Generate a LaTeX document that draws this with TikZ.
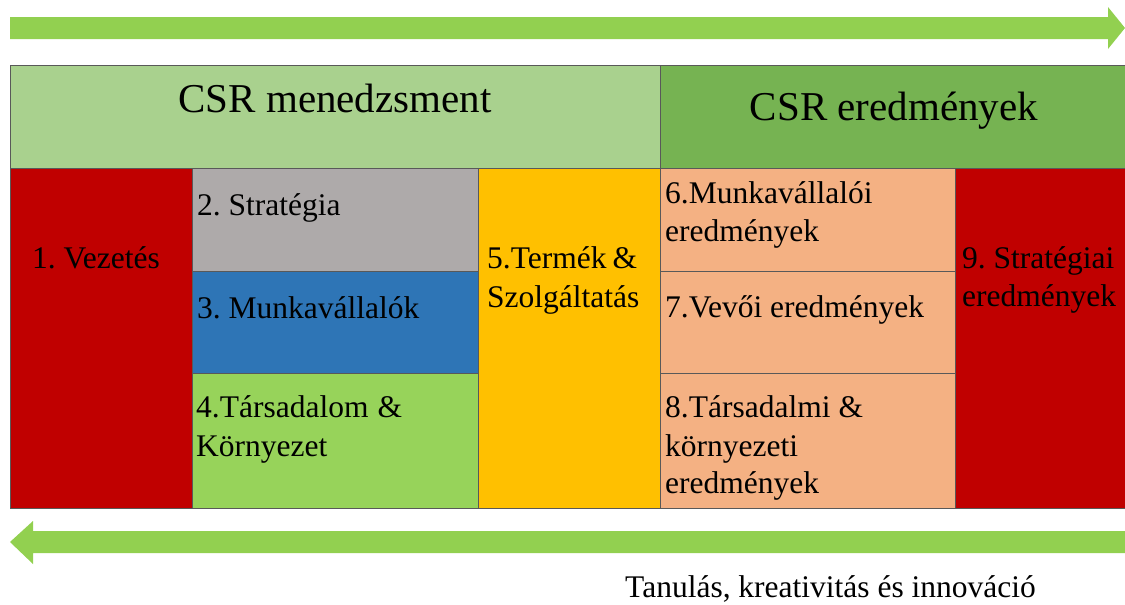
\documentclass[tikz,border=0pt]{standalone}
\usepackage{fontspec}
\setmainfont{LiberationSerif}[Extension=.ttf, UprightFont=*-Regular, BoldFont=*-Bold]
\frenchspacing
\definecolor{arrowgreen}{HTML}{92D050}
\definecolor{hdrlight}{HTML}{A9D18E}
\definecolor{hdrdark}{HTML}{76B352}
\definecolor{csrred}{HTML}{C00000}
\definecolor{csrgrey}{HTML}{AEAAAA}
\definecolor{csrblue}{HTML}{2E75B6}
\definecolor{csrgreen}{HTML}{97D35A}
\definecolor{csryellow}{HTML}{FFC000}
\definecolor{csrsalmon}{HTML}{F4B183}
\begin{document}
\begin{tikzpicture}[x=1pt,y=-1pt,
  cell/.style={draw=black!65, line width=0.8pt, inner sep=0pt, outer sep=0pt},
  hdrtext/.style={font=\fontsize{41}{48}\selectfont\frenchspacing, anchor=base, inner sep=0pt},
  bodytext/.style={font=\fontsize{31.5}{38}\selectfont\frenchspacing, anchor=base west, inner sep=0pt},
  bigarrow/.style={fill=arrowgreen, draw=none}
]
\useasboundingbox (0,0) rectangle (1125,605);
% arrows
\fill[bigarrow] (10,17) -- (1108,17) -- (1108,7) -- (1125,28) -- (1108,49) -- (1108,39) -- (10,39) -- cycle;
\fill[bigarrow] (1125,531) -- (33,531) -- (33,521) -- (10,542) -- (33,564) -- (33,553) -- (1125,553) -- cycle;
% header
\path[cell, fill=hdrlight] (10,65) rectangle (660,168);
\path[cell, fill=hdrdark] (660,65) rectangle (1125,168);
\node[hdrtext] (hmgmt) at (335,112) {CSR menedzsment};
\node[hdrtext] (hres) at (894,120) {CSR eredmények};
% body cells
\path[cell, fill=csrred] (10,168) rectangle (192,508);
\path[cell, fill=csrgrey] (192,168) rectangle (478,271);
\path[cell, fill=csrblue] (192,271) rectangle (478,373);
\path[cell, fill=csrgreen] (192,373) rectangle (478,508);
\path[cell, fill=csryellow] (478,168) rectangle (660,508);
\path[cell, fill=csrsalmon] (660,168) rectangle (955,271);
\path[cell, fill=csrsalmon] (660,271) rectangle (955,373);
\path[cell, fill=csrsalmon] (660,373) rectangle (955,508);
\path[cell, fill=csrred] (955,168) rectangle (1125,508);
% texts
\node[bodytext] (t1) at (32,268) {1. Vezetés};
\node[bodytext] (t2) at (197,215) {2. Stratégia};
\node[bodytext] (t3) at (197,318) {3. Munkavállalók};
\node[bodytext] (t4a) at (196,417) {\makebox[206pt][s]{4.Társadalom \&}};
\node[bodytext] (t4b) at (196,456) {Környezet};
\node[bodytext] (t5a) at (487,268) {\makebox[150pt][s]{5.Termék \&}};
\node[bodytext] (t5b) at (487,307) {Szolgáltatás};
\node[bodytext] (t6a) at (665,203) {6.Munkavállalói};
\node[bodytext] (t6b) at (665,241) {eredmények};
\node[bodytext] (t7) at (665,317) {7.Vevői eredmények};
\node[bodytext] (t8a) at (665,417) {\makebox[198pt][s]{8.Társadalmi \&}};
\node[bodytext] (t8b) at (665,456) {környezeti};
\node[bodytext] (t8c) at (665,493) {eredmények};
\node[bodytext] (t9a) at (962,268) {9. Stratégiai};
\node[bodytext] (t9b) at (962,306) {eredmények};
\node[bodytext] (tbot) at (625,597) {Tanulás, kreativitás és innováció};
\end{tikzpicture}
\end{document}
